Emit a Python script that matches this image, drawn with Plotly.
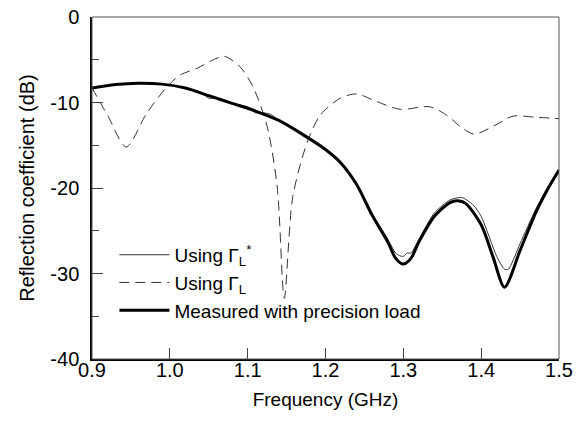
import plotly.graph_objects as go

# measured with precision load (thick)
freq_meas = [0.90, 0.93, 0.96, 0.99, 1.02, 1.05, 1.08, 1.11, 1.14, 1.17, 1.20, 1.22,
             1.24, 1.26, 1.28, 1.29, 1.30, 1.31, 1.32, 1.34, 1.36, 1.37, 1.38, 1.40,
             1.415, 1.43, 1.45, 1.47, 1.485, 1.50]
s11_meas = [-8.3, -7.9, -7.75, -7.85, -8.3, -9.2, -10.1, -11.0, -12.1, -13.7, -15.5, -17.1,
            -19.6, -23.2, -26.3, -28.2, -28.9, -28.2, -26.3, -23.3, -21.7, -21.5, -21.8, -24.3,
            -28.0, -31.6, -27.3, -22.9, -20.2, -17.9]

# using Gamma_L* (thin)
freq_conj = [0.90, 0.93, 0.96, 0.99, 1.02, 1.04, 1.05, 1.06, 1.07, 1.08, 1.09, 1.10, 1.11,
             1.12, 1.13, 1.14, 1.17, 1.20, 1.22, 1.24, 1.26, 1.28, 1.29, 1.295, 1.30,
             1.305, 1.31, 1.32, 1.34, 1.36, 1.375, 1.39, 1.40, 1.42, 1.43, 1.435, 1.45,
             1.47, 1.485, 1.50]
s11_conj = [-8.3, -7.9, -7.75, -7.85, -8.3, -8.8, -9.5, -9.5, -9.7, -10.2, -10.3, -10.5, -11.2,
            -11.2, -11.4, -12.1, -13.7, -15.5, -17.1, -19.6, -23.0, -26.0, -27.6, -27.9, -28.0,
            -27.6, -27.6, -26.0, -22.9, -21.4, -21.1, -22.0, -23.3, -28.0, -29.5, -29.5, -26.5,
            -22.5, -20.0, -17.9]

# using Gamma_L (dashed)
freq_gl = [0.90, 0.92, 0.944, 0.97, 0.996, 1.013, 1.035, 1.056, 1.07, 1.09, 1.107, 1.125,
           1.138, 1.147, 1.158, 1.176, 1.193, 1.219, 1.24, 1.266, 1.296, 1.334, 1.356,
           1.373, 1.391, 1.415, 1.441, 1.467, 1.50]
s11_gl = [-8.3, -11.5, -15.2, -11.3, -8.2, -6.8, -6.0, -5.0, -4.6, -5.8, -8.2, -12.8,
          -19.9, -32.9, -21.0, -14.8, -11.5, -9.5, -9.0, -9.9, -10.8, -10.5, -11.5,
          -12.8, -13.7, -12.8, -11.6, -11.7, -11.9]

x_ticks = [0.9, 1.0, 1.1, 1.2, 1.3, 1.4, 1.5]
x_labels = ["0.9", "1.0", "1.1", "1.2", "1.3", "1.4", "1.5"]
y_ticks = [0, -10, -20, -30, -40]
y_labels = ["0", "-10", "-20", "-30", "-40"]

font = "Liberation Sans, Arial, sans-serif"

fig = go.Figure()
fig.add_trace(go.Scatter(x=freq_conj, y=s11_conj, mode="lines",
                         name="Using Γ<sub>L</sub><sup>*</sup>",
                         line=dict(color="#333333", width=1, shape="spline", smoothing=0.6)))
fig.add_trace(go.Scatter(x=freq_gl, y=s11_gl, mode="lines",
                         name="Using Γ<sub>L</sub>",
                         line=dict(color="#333333", width=1, dash="10px,6px", shape="spline", smoothing=0.8)))
fig.add_trace(go.Scatter(x=freq_meas, y=s11_meas, mode="lines",
                         name="Measured with precision load",
                         line=dict(color="black", width=3, shape="spline", smoothing=0.8)))

fig.update_xaxes(range=[0.9, 1.5], tickvals=x_ticks, ticktext=x_labels,
                 ticks="inside", ticklen=11, tickcolor="#444",
                 showline=True, linecolor="black", linewidth=1.5,
                 showgrid=False, zeroline=False, ticklabelstandoff=-8,
                 ticklabeloverflow="allow",
                 title=dict(text="Frequency (GHz)", font=dict(size=19), standoff=13),
                 tickfont=dict(size=20))
fig.update_yaxes(range=[-40, 0], tickvals=y_ticks, ticktext=y_labels,
                 ticks="inside", ticklen=11, tickcolor="#444",
                 minor=dict(dtick=5, ticks="inside", ticklen=7, tickcolor="#444"),
                 showline=True, linecolor="black", linewidth=1.5,
                 showgrid=False, zeroline=False, ticklabelstandoff=7,
                 ticklabeloverflow="allow",
                 title=dict(text="Reflection coefficient (dB)", font=dict(size=20), standoff=10),
                 tickfont=dict(size=20))

# box top/right
fig.add_shape(type="rect", xref="paper", yref="paper", x0=0, y0=0, x1=1, y1=1,
              line=dict(color="#555", width=1))

fig.update_layout(
    width=583, height=422,
    margin=dict(l=92, r=24, t=17, b=63, autoexpand=False),
    paper_bgcolor="white", plot_bgcolor="white",
    font=dict(family=font, color="black", size=19),
    legend=dict(x=0.048, y=0.36, xanchor="left", yanchor="top",
                bgcolor="rgba(0,0,0,0)", font=dict(size=19), itemwidth=50),
)

# drop the default 8px page margin so the figure fills the window
fig.write_html("out.html", config={"displayModeBar": False},
               post_script="document.body.style.margin='0';")
